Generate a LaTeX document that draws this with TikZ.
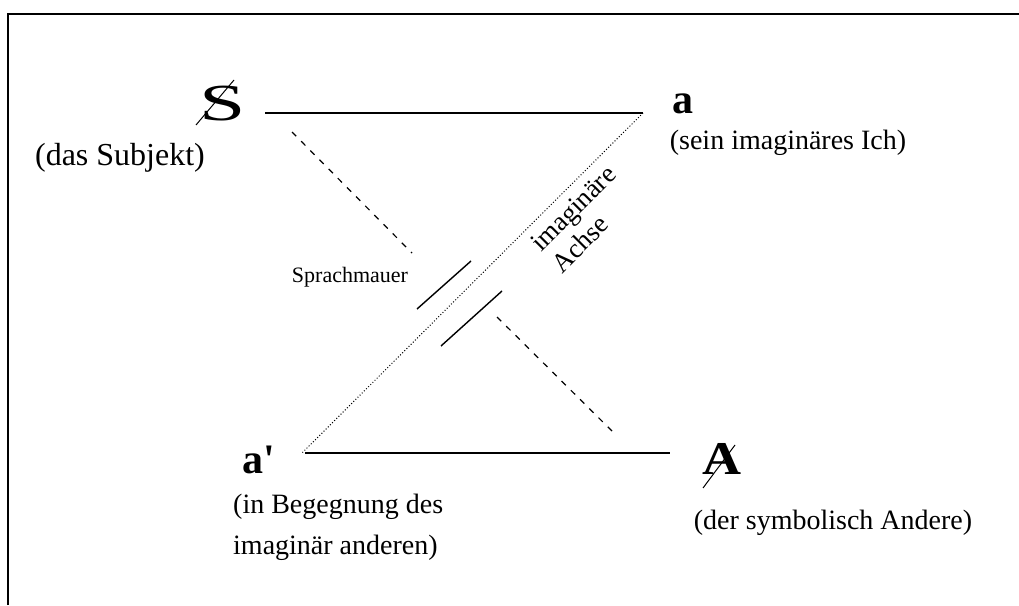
\documentclass[tikz,border=0pt]{standalone}
\usepackage{fontspec}
\setmainfont{Liberation Serif}
\begin{document}
\begin{tikzpicture}[x=1pt,y=-1pt,
  lbl/.style={font=\fontsize{28}{41}\selectfont, inner sep=0pt},
  small/.style={font=\fontsize{22}{26}\selectfont, inner sep=0pt},
  axis/.style={font=\fontsize{27}{30}\selectfont, inner sep=0pt, align=left, rotate=45},
  sym/.style={font=\fontsize{42}{42}\selectfont\bfseries, inner sep=0pt, anchor=base west},
  solidline/.style={line width=1.2pt},
  dashline/.style={line width=1.2pt, dash pattern=on 6pt off 7pt},
  dotline/.style={line width=1pt, dash pattern=on 1pt off 2pt},
  wall/.style={line width=1.4pt},
  frame/.style={line width=2.5pt},
  slash/.style={line width=1pt}]
\useasboundingbox (0,0) rectangle (1019,605);
\draw[frame] (8,605) -- (8,14) -- (1019,14);

% symbols
\node[sym, font=\fontsize{52}{52}\selectfont] (S) at (199,120) {\scalebox{1.6}[1]{S}};
\node[sym] (a) at (672,113) {a};
\node[sym] (ap) at (242,473) {a\textquotesingle};
\node[sym, font=\fontsize{47}{47}\selectfont\bfseries] (A) at (702,474) {\scalebox{1.15}[1]{A}};

\draw[slash] ([shift={(-3,5)}]S.base west) -- ([shift={(35,-40)}]S.base west);
\draw[slash] ([shift={(1,14)}]A.base west) -- ([shift={(33,-29)}]A.base west);

% labels
\node[lbl, font=\fontsize{32}{41}\selectfont] (Sl) at (120,158) {(das Subjekt)};
\node[lbl] (al) at (788,143) {(sein imaginäres Ich)};
\node[lbl, align=left, anchor=west] (apl) at (233,527) {(in Begegnung des\\imaginär anderen)};
\node[lbl] (Al) at (833,523) {(der symbolisch Andere)};
\node[small] (wl) at (350,277) {Sprachmauer};
\node[axis] (ax) at (584,219) {imaginäre\\Achse};

% line end points
\coordinate (t1) at (265,113);
\coordinate (t2) at (643,113);
\coordinate (b1) at (305,453);
\coordinate (b2) at (670,453);
\coordinate (d1) at (302,453);
\coordinate (u1) at (292,132);
\coordinate (u2) at (412,253);
\coordinate (l1) at (497,317);
\coordinate (l2) at (616,435);
\coordinate (w1a) at (417,309);
\coordinate (w1b) at (471,261);
\coordinate (w2a) at (441,346);
\coordinate (w2b) at (502,291);

\draw[solidline] (t1) -- (t2);
\draw[solidline] (b1) -- (b2);
\draw[dotline] (t2) -- (d1);
\draw[dashline] (u1) -- (u2);
\draw[dashline] (l1) -- (l2);
\draw[wall] (w1a) -- (w1b);
\draw[wall] (w2a) -- (w2b);
\end{tikzpicture}
\end{document}
